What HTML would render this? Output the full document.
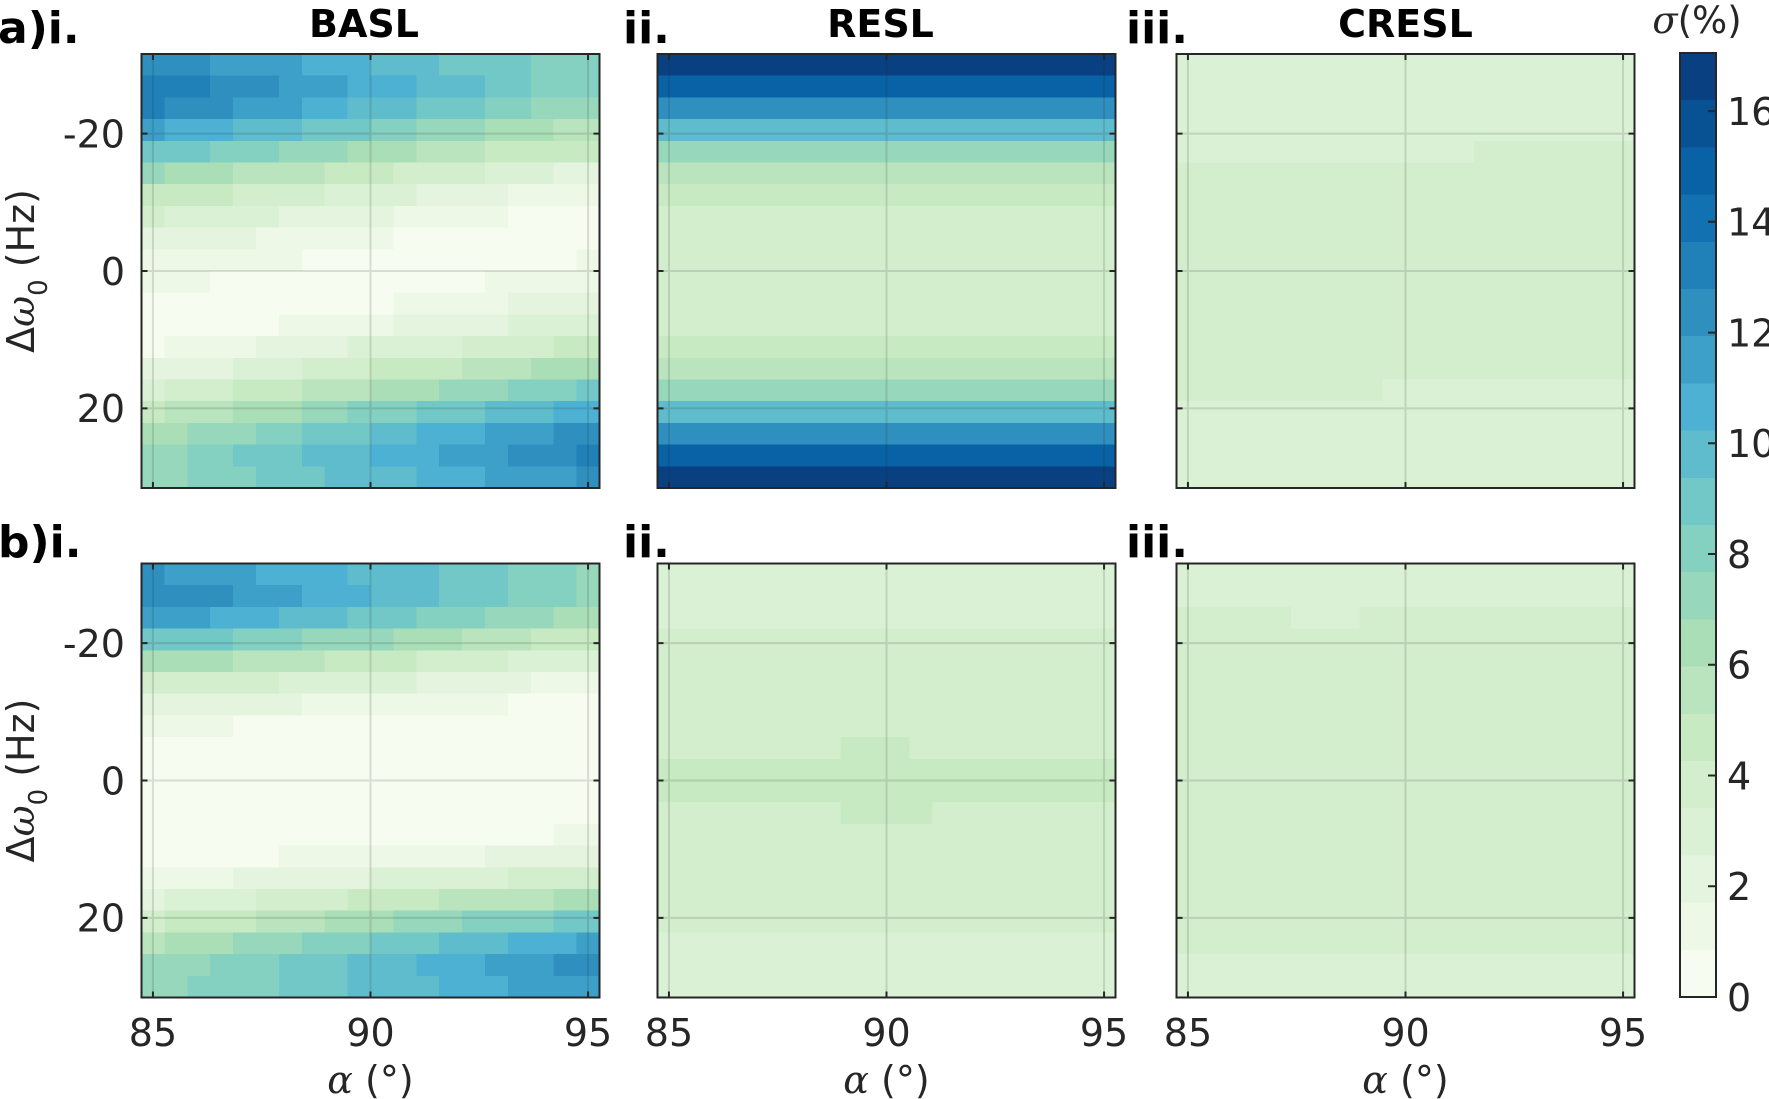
<!DOCTYPE html>
<html><head><meta charset="utf-8"><style>
html,body{margin:0;padding:0;background:#fff}
svg{display:block}
text{font-family:"DejaVu Sans","Liberation Sans",sans-serif;fill:#262626}
.c0{fill:#f7fcf0}.c1{fill:#edf8e7}.c2{fill:#e4f4de}.c3{fill:#dbf1d5}.c4{fill:#d2eecc}
.c5{fill:#c8eac3}.c6{fill:#b9e4bd}.c7{fill:#aadeb6}.c8{fill:#97d7bb}.c9{fill:#84d0c1}
.c10{fill:#72c7c7}.c11{fill:#5fbccd}.c12{fill:#4cb1d2}.c13{fill:#3da0c9}.c14{fill:#2f90c0}
.c15{fill:#2081b8}.c16{fill:#1171b1}.c17{fill:#0862a5}.c18{fill:#085193}.c19{fill:#084081}
.t{font-size:38px}
.pl{font-size:44px;font-weight:bold;fill:#000}
.ti{font-size:38px;font-weight:bold;fill:#000}
.gr{font-family:"DejaVu Serif","Liberation Serif",serif;font-style:italic}
</style></head><body>
<svg width="1769" height="1099" viewBox="0 0 1769 1099" xmlns="http://www.w3.org/2000/svg">
<defs>
<g id="ov">
<path d="M11.45 0V434M229 0V434M446.55 0V434M0 79.6H458M0 217H458M0 354.4H458" stroke="#262626" stroke-opacity="0.15" stroke-width="2" fill="none"/>
<path d="M11.45 0v6M229 0v6M446.55 0v6M11.45 434v-6M229 434v-6M446.55 434v-6M0 79.6h6M0 217h6M0 354.4h6M458 79.6h-6M458 217h-6M458 354.4h-6" stroke="#262626" stroke-width="2" fill="none"/>
<rect x="0" y="0" width="458" height="434" fill="none" stroke="#262626" stroke-width="2"/>
</g>
</defs>
<rect width="1769" height="1099" fill="#fff"/>

<!-- a-i -->
<svg x="141.5" y="54" width="458" height="434" viewBox="0 0 20 20" preserveAspectRatio="none" shape-rendering="crispEdges">
<rect class="c14" x="0" y="0" width="3" height="1"/><rect class="c13" x="3" y="0" width="4" height="1"/><rect class="c12" x="7" y="0" width="3" height="1"/><rect class="c11" x="10" y="0" width="3" height="1"/><rect class="c10" x="13" y="0" width="4" height="1"/><rect class="c9" x="17" y="0" width="3" height="1"/>
<rect class="c15" x="0" y="1" width="3" height="1"/><rect class="c14" x="3" y="1" width="3" height="1"/><rect class="c13" x="6" y="1" width="3" height="1"/><rect class="c12" x="9" y="1" width="3" height="1"/><rect class="c11" x="12" y="1" width="3" height="1"/><rect class="c10" x="15" y="1" width="2" height="1"/><rect class="c9" x="17" y="1" width="3" height="1"/>
<rect class="c15" x="0" y="2" width="1" height="1"/><rect class="c14" x="1" y="2" width="3" height="1"/><rect class="c13" x="4" y="2" width="3" height="1"/><rect class="c12" x="7" y="2" width="2" height="1"/><rect class="c11" x="9" y="2" width="3" height="1"/><rect class="c10" x="12" y="2" width="3" height="1"/><rect class="c9" x="15" y="2" width="2" height="1"/><rect class="c8" x="17" y="2" width="3" height="1"/>
<rect class="c13" x="0" y="3" width="1" height="1"/><rect class="c12" x="1" y="3" width="3" height="1"/><rect class="c11" x="4" y="3" width="3" height="1"/><rect class="c10" x="7" y="3" width="3" height="1"/><rect class="c9" x="10" y="3" width="2" height="1"/><rect class="c8" x="12" y="3" width="3" height="1"/><rect class="c7" x="15" y="3" width="3" height="1"/><rect class="c6" x="18" y="3" width="2" height="1"/>
<rect class="c10" x="0" y="4" width="3" height="1"/><rect class="c9" x="3" y="4" width="3" height="1"/><rect class="c8" x="6" y="4" width="3" height="1"/><rect class="c7" x="9" y="4" width="3" height="1"/><rect class="c6" x="12" y="4" width="3" height="1"/><rect class="c5" x="15" y="4" width="5" height="1"/>
<rect class="c8" x="0" y="5" width="1" height="1"/><rect class="c7" x="1" y="5" width="3" height="1"/><rect class="c6" x="4" y="5" width="4" height="1"/><rect class="c5" x="8" y="5" width="3" height="1"/><rect class="c4" x="11" y="5" width="4" height="1"/><rect class="c3" x="15" y="5" width="3" height="1"/><rect class="c2" x="18" y="5" width="2" height="1"/>
<rect class="c5" x="0" y="6" width="4" height="1"/><rect class="c4" x="4" y="6" width="4" height="1"/><rect class="c3" x="8" y="6" width="4" height="1"/><rect class="c2" x="12" y="6" width="4" height="1"/><rect class="c1" x="16" y="6" width="4" height="1"/>
<rect class="c4" x="0" y="7" width="1" height="1"/><rect class="c3" x="1" y="7" width="5" height="1"/><rect class="c2" x="6" y="7" width="5" height="1"/><rect class="c1" x="11" y="7" width="5" height="1"/><rect class="c0" x="16" y="7" width="4" height="1"/>
<rect class="c2" x="0" y="8" width="5" height="1"/><rect class="c1" x="5" y="8" width="6" height="1"/><rect class="c0" x="11" y="8" width="9" height="1"/>
<rect class="c1" x="0" y="9" width="7" height="1"/><rect class="c0" x="7" y="9" width="12" height="1"/><rect class="c1" x="19" y="9" width="1" height="1"/>
<rect class="c1" x="0" y="10" width="3" height="1"/><rect class="c0" x="3" y="10" width="12" height="1"/><rect class="c1" x="15" y="10" width="5" height="1"/>
<rect class="c0" x="0" y="11" width="11" height="1"/><rect class="c1" x="11" y="11" width="5" height="1"/><rect class="c2" x="16" y="11" width="4" height="1"/>
<rect class="c0" x="0" y="12" width="6" height="1"/><rect class="c1" x="6" y="12" width="5" height="1"/><rect class="c2" x="11" y="12" width="5" height="1"/><rect class="c3" x="16" y="12" width="4" height="1"/>
<rect class="c0" x="0" y="13" width="1" height="1"/><rect class="c1" x="1" y="13" width="4" height="1"/><rect class="c2" x="5" y="13" width="4" height="1"/><rect class="c3" x="9" y="13" width="5" height="1"/><rect class="c4" x="14" y="13" width="4" height="1"/><rect class="c5" x="18" y="13" width="2" height="1"/>
<rect class="c2" x="0" y="14" width="4" height="1"/><rect class="c3" x="4" y="14" width="3" height="1"/><rect class="c4" x="7" y="14" width="3" height="1"/><rect class="c5" x="10" y="14" width="4" height="1"/><rect class="c6" x="14" y="14" width="3" height="1"/><rect class="c7" x="17" y="14" width="3" height="1"/>
<rect class="c3" x="0" y="15" width="1" height="1"/><rect class="c4" x="1" y="15" width="3" height="1"/><rect class="c5" x="4" y="15" width="3" height="1"/><rect class="c6" x="7" y="15" width="3" height="1"/><rect class="c7" x="10" y="15" width="3" height="1"/><rect class="c8" x="13" y="15" width="3" height="1"/><rect class="c9" x="16" y="15" width="3" height="1"/><rect class="c10" x="19" y="15" width="1" height="1"/>
<rect class="c5" x="0" y="16" width="1" height="1"/><rect class="c6" x="1" y="16" width="3" height="1"/><rect class="c7" x="4" y="16" width="3" height="1"/><rect class="c8" x="7" y="16" width="2" height="1"/><rect class="c9" x="9" y="16" width="3" height="1"/><rect class="c10" x="12" y="16" width="3" height="1"/><rect class="c11" x="15" y="16" width="3" height="1"/><rect class="c12" x="18" y="16" width="2" height="1"/>
<rect class="c7" x="0" y="17" width="2" height="1"/><rect class="c8" x="2" y="17" width="3" height="1"/><rect class="c9" x="5" y="17" width="2" height="1"/><rect class="c10" x="7" y="17" width="3" height="1"/><rect class="c11" x="10" y="17" width="2" height="1"/><rect class="c12" x="12" y="17" width="3" height="1"/><rect class="c13" x="15" y="17" width="3" height="1"/><rect class="c14" x="18" y="17" width="2" height="1"/>
<rect class="c8" x="0" y="18" width="2" height="1"/><rect class="c9" x="2" y="18" width="2" height="1"/><rect class="c10" x="4" y="18" width="3" height="1"/><rect class="c11" x="7" y="18" width="3" height="1"/><rect class="c12" x="10" y="18" width="3" height="1"/><rect class="c13" x="13" y="18" width="3" height="1"/><rect class="c14" x="16" y="18" width="3" height="1"/><rect class="c15" x="19" y="18" width="1" height="1"/>
<rect class="c8" x="0" y="19" width="2" height="1"/><rect class="c9" x="2" y="19" width="3" height="1"/><rect class="c10" x="5" y="19" width="3" height="1"/><rect class="c11" x="8" y="19" width="4" height="1"/><rect class="c12" x="12" y="19" width="3" height="1"/><rect class="c13" x="15" y="19" width="4" height="1"/><rect class="c14" x="19" y="19" width="1" height="1"/>
</svg>

<!-- a-ii -->
<svg x="657.5" y="54" width="458" height="434" viewBox="0 0 20 20" preserveAspectRatio="none" shape-rendering="crispEdges">
<rect class="c19" x="0" y="0" width="20" height="1"/>
<rect class="c17" x="0" y="1" width="20" height="1"/>
<rect class="c14" x="0" y="2" width="20" height="1"/>
<rect class="c11" x="0" y="3" width="20" height="1"/>
<rect class="c8" x="0" y="4" width="20" height="1"/>
<rect class="c6" x="0" y="5" width="20" height="1"/>
<rect class="c5" x="0" y="6" width="20" height="1"/>
<rect class="c4" x="0" y="7" width="20" height="6"/>
<rect class="c5" x="0" y="13" width="20" height="1"/>
<rect class="c6" x="0" y="14" width="20" height="1"/>
<rect class="c8" x="0" y="15" width="20" height="1"/>
<rect class="c11" x="0" y="16" width="20" height="1"/>
<rect class="c14" x="0" y="17" width="20" height="1"/>
<rect class="c17" x="0" y="18" width="20" height="1"/>
<rect class="c19" x="0" y="19" width="20" height="1"/>
</svg>

<!-- a-iii -->
<svg x="1176.5" y="54" width="458" height="434" viewBox="0 0 20 20" preserveAspectRatio="none" shape-rendering="crispEdges">
<rect class="c4" x="0" y="0" width="20" height="20"/>
<rect class="c3" x="0" y="0" width="20" height="4"/>
<rect class="c3" x="0" y="4" width="13" height="1"/>
<rect class="c3" x="9" y="15" width="11" height="1"/>
<rect class="c3" x="0" y="16" width="20" height="4"/>
</svg>

<!-- b-i -->
<svg x="141.5" y="563.5" width="458" height="434" viewBox="0 0 20 20" preserveAspectRatio="none" shape-rendering="crispEdges">
<rect class="c14" x="0" y="0" width="1" height="1"/><rect class="c13" x="1" y="0" width="4" height="1"/><rect class="c12" x="5" y="0" width="4" height="1"/><rect class="c11" x="9" y="0" width="4" height="1"/><rect class="c10" x="13" y="0" width="3" height="1"/><rect class="c9" x="16" y="0" width="3" height="1"/><rect class="c8" x="19" y="0" width="1" height="1"/>
<rect class="c14" x="0" y="1" width="4" height="1"/><rect class="c13" x="4" y="1" width="3" height="1"/><rect class="c12" x="7" y="1" width="3" height="1"/><rect class="c11" x="10" y="1" width="3" height="1"/><rect class="c10" x="13" y="1" width="3" height="1"/><rect class="c9" x="16" y="1" width="3" height="1"/><rect class="c8" x="19" y="1" width="1" height="1"/>
<rect class="c13" x="0" y="2" width="3" height="1"/><rect class="c12" x="3" y="2" width="3" height="1"/><rect class="c11" x="6" y="2" width="3" height="1"/><rect class="c10" x="9" y="2" width="3" height="1"/><rect class="c9" x="12" y="2" width="3" height="1"/><rect class="c8" x="15" y="2" width="3" height="1"/><rect class="c7" x="18" y="2" width="2" height="1"/>
<rect class="c10" x="0" y="3" width="4" height="1"/><rect class="c9" x="4" y="3" width="3" height="1"/><rect class="c8" x="7" y="3" width="4" height="1"/><rect class="c7" x="11" y="3" width="3" height="1"/><rect class="c6" x="14" y="3" width="3" height="1"/><rect class="c5" x="17" y="3" width="3" height="1"/>
<rect class="c7" x="0" y="4" width="4" height="1"/><rect class="c6" x="4" y="4" width="4" height="1"/><rect class="c5" x="8" y="4" width="4" height="1"/><rect class="c4" x="12" y="4" width="4" height="1"/><rect class="c3" x="16" y="4" width="4" height="1"/>
<rect class="c4" x="0" y="5" width="6" height="1"/><rect class="c3" x="6" y="5" width="6" height="1"/><rect class="c2" x="12" y="5" width="5" height="1"/><rect class="c1" x="17" y="5" width="3" height="1"/>
<rect class="c2" x="0" y="6" width="7" height="1"/><rect class="c1" x="7" y="6" width="9" height="1"/><rect class="c0" x="16" y="6" width="4" height="1"/>
<rect class="c1" x="0" y="7" width="4" height="1"/><rect class="c0" x="4" y="7" width="16" height="1"/>
<rect class="c0" x="0" y="8" width="20" height="4"/>
<rect class="c0" x="0" y="12" width="18" height="1"/><rect class="c1" x="18" y="12" width="2" height="1"/>
<rect class="c0" x="0" y="13" width="6" height="1"/><rect class="c1" x="6" y="13" width="9" height="1"/><rect class="c2" x="15" y="13" width="5" height="1"/>
<rect class="c1" x="0" y="14" width="4" height="1"/><rect class="c2" x="4" y="14" width="6" height="1"/><rect class="c3" x="10" y="14" width="6" height="1"/><rect class="c4" x="16" y="14" width="4" height="1"/>
<rect class="c2" x="0" y="15" width="1" height="1"/><rect class="c3" x="1" y="15" width="4" height="1"/><rect class="c4" x="5" y="15" width="4" height="1"/><rect class="c5" x="9" y="15" width="4" height="1"/><rect class="c6" x="13" y="15" width="5" height="1"/><rect class="c7" x="18" y="15" width="2" height="1"/>
<rect class="c4" x="0" y="16" width="1" height="1"/><rect class="c5" x="1" y="16" width="4" height="1"/><rect class="c6" x="5" y="16" width="3" height="1"/><rect class="c7" x="8" y="16" width="3" height="1"/><rect class="c8" x="11" y="16" width="3" height="1"/><rect class="c9" x="14" y="16" width="4" height="1"/><rect class="c10" x="18" y="16" width="2" height="1"/>
<rect class="c6" x="0" y="17" width="1" height="1"/><rect class="c7" x="1" y="17" width="3" height="1"/><rect class="c8" x="4" y="17" width="3" height="1"/><rect class="c9" x="7" y="17" width="3" height="1"/><rect class="c10" x="10" y="17" width="3" height="1"/><rect class="c11" x="13" y="17" width="3" height="1"/><rect class="c12" x="16" y="17" width="3" height="1"/><rect class="c13" x="19" y="17" width="1" height="1"/>
<rect class="c8" x="0" y="18" width="3" height="1"/><rect class="c9" x="3" y="18" width="3" height="1"/><rect class="c10" x="6" y="18" width="3" height="1"/><rect class="c11" x="9" y="18" width="3" height="1"/><rect class="c12" x="12" y="18" width="3" height="1"/><rect class="c13" x="15" y="18" width="3" height="1"/><rect class="c14" x="18" y="18" width="2" height="1"/>
<rect class="c8" x="0" y="19" width="2" height="1"/><rect class="c9" x="2" y="19" width="4" height="1"/><rect class="c10" x="6" y="19" width="3" height="1"/><rect class="c11" x="9" y="19" width="4" height="1"/><rect class="c12" x="13" y="19" width="3" height="1"/><rect class="c13" x="16" y="19" width="4" height="1"/>
</svg>

<!-- b-ii -->
<svg x="657.5" y="563.5" width="458" height="434" viewBox="0 0 20 20" preserveAspectRatio="none" shape-rendering="crispEdges">
<rect class="c4" x="0" y="0" width="20" height="20"/>
<rect class="c3" x="0" y="0" width="20" height="3"/>
<rect class="c5" x="8" y="8" width="3" height="1"/>
<rect class="c5" x="0" y="9" width="20" height="2"/>
<rect class="c5" x="8" y="11" width="4" height="1"/>
<rect class="c3" x="0" y="17" width="20" height="3"/>
</svg>

<!-- b-iii -->
<svg x="1176.5" y="563.5" width="458" height="434" viewBox="0 0 20 20" preserveAspectRatio="none" shape-rendering="crispEdges">
<rect class="c4" x="0" y="0" width="20" height="20"/>
<rect class="c3" x="0" y="0" width="20" height="2"/>
<rect class="c3" x="5" y="2" width="3" height="1"/>
<rect class="c3" x="0" y="18" width="20" height="2"/>
</svg>

<!-- overlays: grid, ticks, boxes -->
<use href="#ov" x="141.5" y="54"/>
<use href="#ov" x="657.5" y="54"/>
<use href="#ov" x="1176.5" y="54"/>
<use href="#ov" x="141.5" y="563.5"/>
<use href="#ov" x="657.5" y="563.5"/>
<use href="#ov" x="1176.5" y="563.5"/>

<!-- colorbar -->
<svg x="1680" y="53" width="36" height="944" viewBox="0 0 1 20" preserveAspectRatio="none" shape-rendering="crispEdges">
<rect class="c19" x="0" y="0" width="1" height="1"/><rect class="c18" x="0" y="1" width="1" height="1"/><rect class="c17" x="0" y="2" width="1" height="1"/><rect class="c16" x="0" y="3" width="1" height="1"/><rect class="c15" x="0" y="4" width="1" height="1"/><rect class="c14" x="0" y="5" width="1" height="1"/><rect class="c13" x="0" y="6" width="1" height="1"/><rect class="c12" x="0" y="7" width="1" height="1"/><rect class="c11" x="0" y="8" width="1" height="1"/><rect class="c10" x="0" y="9" width="1" height="1"/><rect class="c9" x="0" y="10" width="1" height="1"/><rect class="c8" x="0" y="11" width="1" height="1"/><rect class="c7" x="0" y="12" width="1" height="1"/><rect class="c6" x="0" y="13" width="1" height="1"/><rect class="c5" x="0" y="14" width="1" height="1"/><rect class="c4" x="0" y="15" width="1" height="1"/><rect class="c3" x="0" y="16" width="1" height="1"/><rect class="c2" x="0" y="17" width="1" height="1"/><rect class="c1" x="0" y="18" width="1" height="1"/><rect class="c0" x="0" y="19" width="1" height="1"/>
</svg>
<rect x="1680" y="53" width="36" height="944" fill="none" stroke="#262626" stroke-width="2"/>
<path d="M1708 997h8M1708 886.3h8M1708 775.5h8M1708 664.8h8M1708 554h8M1708 443.3h8M1708 332.6h8M1708 221.8h8M1708 111.1h8" stroke="#262626" stroke-width="2"/>
<g class="t">
<text x="1727" y="1010.8">0</text>
<text x="1727" y="900.1">2</text>
<text x="1727" y="789.3">4</text>
<text x="1727" y="678.6">6</text>
<text x="1727" y="567.8">8</text>
<text x="1727" y="457.1">10</text>
<text x="1727" y="346.4">12</text>
<text x="1727" y="235.6">14</text>
<text x="1727" y="124.9">16</text>
</g>
<text x="1697" y="33" text-anchor="middle" font-size="37"><tspan class="gr">σ</tspan>(%)</text>

<!-- titles -->
<text class="ti" x="364" y="37" text-anchor="middle">BASL</text>
<text class="ti" x="880.5" y="37" text-anchor="middle">RESL</text>
<text class="ti" x="1405.5" y="37" text-anchor="middle">CRESL</text>

<!-- panel labels -->
<text class="pl" x="-2" y="43">a)i.</text>
<text class="pl" x="623" y="43">ii.</text>
<text class="pl" x="1126" y="43">iii.</text>
<text class="pl" x="-2" y="557">b)i.</text>
<text class="pl" x="623" y="557">ii.</text>
<text class="pl" x="1126" y="557">iii.</text>

<!-- y tick labels -->
<g class="t" text-anchor="end">
<text x="125" y="147.4">-20</text>
<text x="125" y="284.8">0</text>
<text x="125" y="422.2">20</text>
<text x="125" y="656.9">-20</text>
<text x="125" y="794.3">0</text>
<text x="125" y="931.7">20</text>
</g>

<!-- x tick labels -->
<g class="t" text-anchor="middle">
<text x="152.95" y="1046">85</text>
<text x="370.5" y="1046">90</text>
<text x="588" y="1046">95</text>
<text x="668.95" y="1046">85</text>
<text x="886.5" y="1046">90</text>
<text x="1104" y="1046">95</text>
<text x="1187.95" y="1046">85</text>
<text x="1405.5" y="1046">90</text>
<text x="1623" y="1046">95</text>
</g>

<!-- x labels -->
<g class="t" text-anchor="middle">
<text x="370.5" y="1093"><tspan class="gr">α</tspan> (°)</text>
<text x="886.5" y="1093"><tspan class="gr">α</tspan> (°)</text>
<text x="1405.5" y="1093"><tspan class="gr">α</tspan> (°)</text>
</g>

<!-- y labels -->
<text class="t" text-anchor="middle" transform="translate(34,271) rotate(-90)">Δ<tspan class="gr">ω</tspan><tspan font-size="26" dy="13">0</tspan><tspan dy="-13"> (Hz)</tspan></text>
<text class="t" text-anchor="middle" transform="translate(34,780.5) rotate(-90)">Δ<tspan class="gr">ω</tspan><tspan font-size="26" dy="13">0</tspan><tspan dy="-13"> (Hz)</tspan></text>
</svg>
</body></html>
